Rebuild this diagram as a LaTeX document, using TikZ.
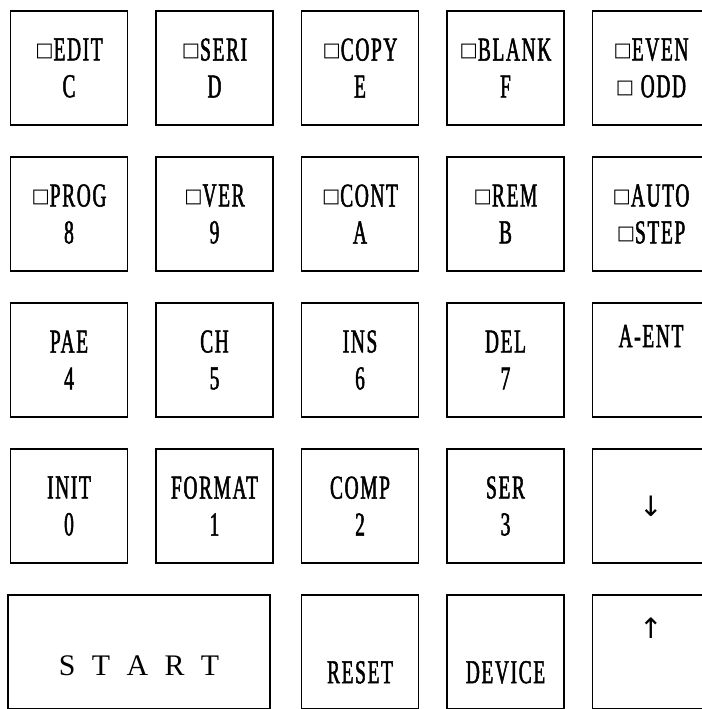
\documentclass[tikz,border=0pt]{standalone}
\usepackage{fontspec}
\newfontfamily\keyfont[FakeStretch=0.58,FakeBold=1.5,LetterSpace=5]{Liberation Serif}
\newfontfamily\symfont{DejaVu Sans}
\newfontfamily\startfont{Liberation Serif}
\newcommand\led{\raisebox{0.12em}{\symfont\fontsize{11}{11}\selectfont □}}
\newcommand\arr[1]{{\symfont\fontsize{16}{16}\selectfont #1}}
\usetikzlibrary{positioning}

\begin{document}
\begin{tikzpicture}[key/.style={draw, line width=1pt, minimum width=2.34cm, minimum height=2.28cm,
                      inner sep=0pt, align=center, font=\keyfont\fontsize{19}{21}\selectfont}]
    \useasboundingbox (0,0) rectangle (14.04,-14.18);
    % upper four rows of keys
    \foreach \n/\t/\c/\r in {edit/{\led EDIT\\C}/0/0, seri/{\led SERI\\D}/1/0, copy/{\led COPY\\E}/2/0,
                             blank/{\led BLANK\\F}/3/0, even/{\led EVEN\\\led\ ODD}/4/0,
                             prog/{\led PROG\\8}/0/1, ver/{\led VER\\9}/1/1, cont/{\led CONT\\A}/2/1,
                             rem/{\led REM\\B}/3/1, auto/{\led AUTO\\\led STEP}/4/1,
                             pae/{PAE\\4}/0/2, ch/{CH\\5}/1/2, ins/{INS\\6}/2/2, del/{DEL\\7}/3/2,
                             aent/{A-ENT\\\strut}/4/2,
                             init/{INIT\\0}/0/3, format/{FORMAT\\1}/1/3, comp/{COMP\\2}/2/3,
                             ser/{SER\\3}/3/3, down/{\arr{↓}}/4/3}
        \node[key] (\n) at ({1.38+\c*2.91},{-1.36-\r*2.92}) {\t};
    % bottom row
    \node[key, minimum width=5.24cm, text height=0.92cm, text depth=0pt,
          font=\startfont\fontsize{17}{17}\selectfont] (start) at (2.78,-13.04)
        {S\hspace{0.55em}T\hspace{0.55em}A\hspace{0.55em}R\hspace{0.55em}T};
    \foreach \n/\t/\c in {reset/{\strut\\RESET}/2, device/{\strut\\DEVICE}/3, up/{\arr{↑}\\\strut}/4}
        \node[key] (\n) at ({1.38+\c*2.91},-13.04) {\t};
\end{tikzpicture}
\end{document}
